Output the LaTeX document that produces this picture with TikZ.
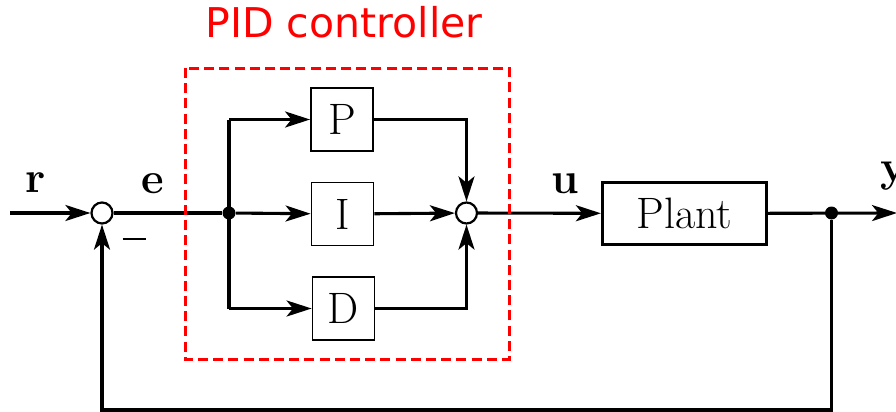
\documentclass[tikz,border=0pt]{standalone}
\usepackage{fontspec}
\newfontfamily\dejavu{DejaVu Sans}
\usetikzlibrary{arrows.meta,calc}
\begin{document}
\begin{tikzpicture}[x=0.5pt,y=-0.5pt,
  font=\fontsize{22}{26}\selectfont,
  line/.style={line width=1.55pt},
  arr/.style={line, -{Stealth[length=12.5pt,width=8pt,inset=3.2pt]}},
  blk/.style={draw, line width=0.9pt, minimum width=31pt, minimum height=31.5pt, inner sep=0pt},
  plantbox/.style={draw, line width=1.6pt, minimum width=82pt, minimum height=31pt, inner sep=0pt},
  sumc/.style={circle, draw, line width=1.1pt, fill=white, minimum size=10.5pt, inner sep=0pt},
  dotn/.style={circle, fill=black, minimum size=6.5pt, inner sep=0pt},
  lbl/.style={font=\fontsize{22}{26}\selectfont\bfseries, inner sep=0pt}]
\useasboundingbox (0,0) rectangle (896,412);

% title
\node[red, font=\dejavu\fontsize{20.5}{24}\selectfont, anchor=base] (title) at (344,38) {PID controller};

% nodes
\node[sumc] (s1) at (102,213) {};
\node[dotn] (b1) at (229,213) {};
\node[blk] (P) at (342,119.5) {P};
\node[blk] (I) at (342.5,214) {I};
\node[blk] (D) at (343.5,308.5) {D};
\node[sumc] (s2) at (466.5,213) {};
\node[plantbox] (plant) at (684.5,213.5) {Plant};
\node[dotn] (b2) at (831.5,213) {};
\coordinate (in) at (10,213);
\coordinate (out) at (897,213);
\coordinate (fb) at (0,410);

% labels
\node[lbl, anchor=base] (rl) at (36,192) {r};
\node[lbl, anchor=base] (el) at (153,193) {e};
\node[lbl, anchor=base] (ul) at (565,193) {u};
\node[lbl, anchor=base west] (yl) at (880,181) {y};
\node[inner sep=0pt] (minus) at (134,239) {\rule{11.5pt}{1.2pt}};

% connectors
\draw[arr] (in) -- (s1);
\draw[line] (s1) -- (b1);
\draw[line] (b1 |- P) -- (b1 |- D);
\draw[arr] (b1 |- P) -- (P);
\draw[arr] (b1) -- (I);
\draw[arr] (b1 |- D) -- (D);
\draw[arr] (P) -| (s2);
\draw[arr] (I) -- (s2);
\draw[arr] (D) -| (s2);
\draw[arr] (s2) -- (plant);
\draw[arr] (plant) -- (out);
\draw[arr] (b2) |- (fb -| s1) -- (s1);

% PID region (drawn on top, as in the reference)
\draw[red, line width=1.5pt, dash pattern=on 5pt off 2.6pt] (185,68) rectangle (509,359);
\end{tikzpicture}
\end{document}
